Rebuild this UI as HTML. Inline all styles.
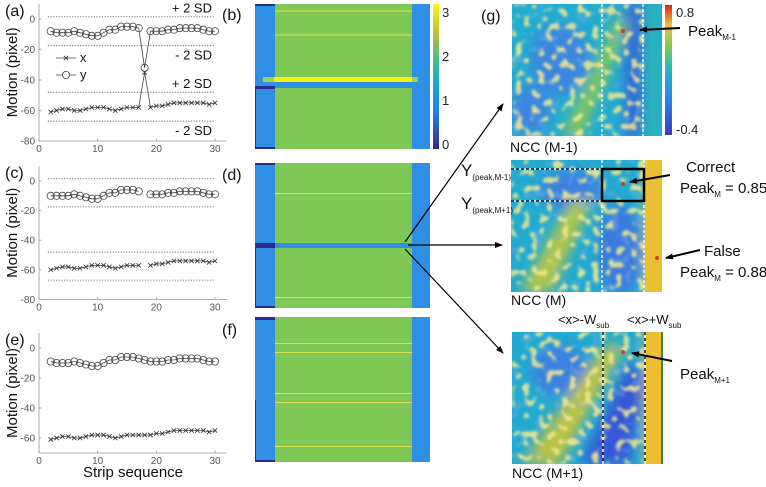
<!DOCTYPE html>
<html><head><meta charset="utf-8">
<style>
html,body{margin:0;padding:0;background:#fff;}
svg{display:block;font-family:"Liberation Sans",Arial,sans-serif;}
.tk{font-size:10px;fill:#555;}
.lab{font-size:16px;fill:#111;}
.ax{stroke:#999;stroke-width:0.8;fill:none;}
</style></head>
<body>
<svg id="fig" width="766" height="487" viewBox="0 0 766 487" xmlns="http://www.w3.org/2000/svg">
<defs>
  <filter id="noiseY" x="0" y="0" width="100%" height="100%">
    <feTurbulence type="fractalNoise" baseFrequency="0.13" numOctaves="1" seed="3" result="t"/>
    <feColorMatrix in="t" type="matrix" values="0 0 0 0 0.93  0 0 0 0 0.82  0 0 0 0 0.28  12 0 0 0 -6.7" result="c"/>
    <feComposite in="c" in2="SourceGraphic" operator="in"/>
  </filter>
  <filter id="noiseB" x="0" y="0" width="100%" height="100%">
    <feTurbulence type="fractalNoise" baseFrequency="0.09" numOctaves="1" seed="11" result="t"/>
    <feColorMatrix in="t" type="matrix" values="0 0 0 0 0.24  0 0 0 0 0.42  0 0 0 0 0.88  -8 0 0 0 3.2" result="c"/>
    <feComposite in="c" in2="SourceGraphic" operator="in"/>
  </filter>
  <filter id="blur6"><feGaussianBlur stdDeviation="6"/></filter>
  <filter id="blur1"><feGaussianBlur stdDeviation="1.3"/></filter>
  <linearGradient id="parula" x1="0" y1="1" x2="0" y2="0">
    <stop offset="0" stop-color="#352a87"/><stop offset="0.25" stop-color="#1f7fe0"/>
    <stop offset="0.45" stop-color="#13a9d6"/><stop offset="0.6" stop-color="#3fbc92"/>
    <stop offset="0.8" stop-color="#bdbe36"/><stop offset="1" stop-color="#f9fb0e"/>
  </linearGradient>
  <linearGradient id="jetbar" x1="0" y1="1" x2="0" y2="0">
    <stop offset="0" stop-color="#3a3ab8"/><stop offset="0.25" stop-color="#2a7fe6"/>
    <stop offset="0.5" stop-color="#22b8c0"/><stop offset="0.7" stop-color="#8cc850"/>
    <stop offset="0.85" stop-color="#f0c030"/><stop offset="1" stop-color="#e0201a"/>
  </linearGradient>
  <clipPath id="cg1"><rect x="512" y="4" width="150" height="132"/></clipPath>
  <clipPath id="cg2"><rect x="511" y="160" width="151" height="132"/></clipPath>
  <clipPath id="cg3"><rect x="512" y="332" width="151" height="132"/></clipPath>
  <marker id="ah" markerWidth="8" markerHeight="8" refX="7" refY="4" orient="auto" markerUnits="userSpaceOnUse">
    <path d="M0,1 L8,4 L0,7 z" fill="#000"/>
  </marker>
</defs>
<g id="lineCharts"></g>

<!-- panel b -->
<g>
  <text class="lab" x="222" y="20">(b)</text>
  <rect x="255" y="4" width="175" height="145" fill="#2e8fe5"/>
  <rect x="275" y="4" width="137" height="145" fill="#80c855"/>
  <rect x="255" y="4" width="20" height="2" fill="#2f2a8f"/>
  <rect x="255" y="86" width="20" height="3" fill="#2f2a8f"/>
  <rect x="255" y="89" width="1" height="60" fill="#2f2a8f"/>
  <rect x="255" y="147" width="20" height="2" fill="#2f2a8f"/>
  <rect x="275" y="10.5" width="137" height="1" fill="#e8e040"/>
  <rect x="275" y="34.5" width="137" height="1" fill="#d8e050"/>
  <rect x="263" y="77" width="155" height="5" fill="#9ed04a"/>
  <rect x="274" y="77" width="138" height="5" fill="#f5ef10"/>
  <rect x="275" y="82" width="137" height="6" fill="#2e8fe5"/>
  <rect x="433" y="4" width="6" height="145" fill="url(#parula)"/>
  <text class="tk" style="font-size:13px;fill:#222" x="442" y="17">3</text>
  <text class="tk" style="font-size:13px;fill:#222" x="442" y="61">2</text>
  <text class="tk" style="font-size:13px;fill:#222" x="442" y="105">1</text>
  <text class="tk" style="font-size:13px;fill:#222" x="442" y="149">0</text>
</g>
<!-- panel d -->
<g>
  <text class="lab" x="222" y="180">(d)</text>
  <rect x="255" y="163" width="175" height="145" fill="#2e8fe5"/>
  <rect x="275" y="163" width="137" height="145" fill="#80c855"/>
  <rect x="255" y="163" width="20" height="2" fill="#2f2a8f"/>
  <rect x="255" y="243" width="20" height="5" fill="#2f2a8f"/>
  <rect x="275" y="243" width="137" height="5" fill="#2e8fe5"/>
  <rect x="255" y="248" width="1" height="60" fill="#2f2a8f"/>
  <rect x="255" y="306" width="20" height="2" fill="#2f2a8f"/>
  <rect x="275" y="193" width="137" height="1" fill="#d8e050"/>
  <rect x="275" y="297" width="137" height="1" fill="#d8e050"/>
</g>
<!-- panel f -->
<g>
  <text class="lab" x="222" y="335">(f)</text>
  <rect x="255" y="317" width="175" height="145" fill="#2e8fe5"/>
  <rect x="275" y="317" width="137" height="145" fill="#80c855"/>
  <rect x="255" y="317" width="20" height="3" fill="#2f2a8f"/>
  <rect x="255" y="400" width="1" height="62" fill="#2f2a8f"/>
  <rect x="255" y="460" width="20" height="2" fill="#2f2a8f"/>
  <rect x="275" y="343" width="137" height="1" fill="#d8e050"/>
  <rect x="275" y="352" width="137" height="1" fill="#d8e050"/>
  <rect x="275" y="393" width="137" height="1" fill="#d8e050"/>
  <rect x="275" y="402" width="137" height="1" fill="#d8e050"/>
  <rect x="275" y="446" width="137" height="1" fill="#d8e050"/>
</g>

<!-- arrows from d -->
<g>
  <line x1="405" y1="242" x2="503" y2="104" stroke="#000" stroke-width="1.2" marker-end="url(#ah)"/>
  <line x1="408" y1="245" x2="502" y2="245" stroke="#000" stroke-width="1.2" marker-end="url(#ah)"/>
  <line x1="405" y1="249" x2="503" y2="353" stroke="#000" stroke-width="1.2" marker-end="url(#ah)"/>
</g>

<!-- panel g top -->
<g>
  <text class="lab" x="481" y="21">(g)</text>
  <g clip-path="url(#cg1)">
    <rect x="512" y="4" width="150" height="132" fill="#22acd0"/>
    <g filter="url(#blur6)">
      <ellipse cx="560" cy="60" rx="30" ry="35" fill="#3a86e0"/>
      <ellipse cx="530" cy="110" rx="20" ry="25" fill="#3a86e0"/>
      <rect x="625" y="4" width="18" height="132" fill="#3468d8"/>
      <rect x="645" y="4" width="17" height="132" fill="#2ab4b8"/>
      <polygon points="562,136 582,136 630,20 616,20" fill="#84c65c"/>
    </g>
    <rect x="512" y="4" width="132" height="132" fill="#fff" filter="url(#noiseB)" opacity="0.3"/>
    <g filter="url(#blur1)"><rect x="512" y="4" width="132" height="132" fill="#fff" filter="url(#noiseY)" opacity="0.85"/></g>
    <line x1="602" y1="4" x2="602" y2="136" stroke="#fff" stroke-width="1.3" stroke-dasharray="3,2"/>
    <line x1="643" y1="4" x2="643" y2="136" stroke="#fff" stroke-width="1.3" stroke-dasharray="3,2"/>
    <circle cx="623" cy="31" r="2" fill="#e03a10"/>
  </g>
  <rect x="665" y="5" width="7" height="130" fill="url(#jetbar)"/>
  <text style="font-size:13px;fill:#222" x="676" y="17">0.8</text>
  <text style="font-size:13px;fill:#222" x="676" y="134">-0.4</text>
  <text style="font-size:14px;fill:#111" x="510" y="152">NCC (M-1)</text>
  <line x1="680" y1="28" x2="640" y2="30" stroke="#000" stroke-width="2" marker-end="url(#ah)"/>
  <text style="font-size:15px;fill:#111" x="688" y="36">Peak<tspan style="font-size:8px" dy="4">M-1</tspan></text>
</g>

<!-- panel g middle -->
<g>
  <g clip-path="url(#cg2)">
    <rect x="511" y="160" width="151" height="132" fill="#22aad2"/>
    <g filter="url(#blur6)">
      <ellipse cx="570" cy="190" rx="30" ry="20" fill="#3a80e0"/>
      <ellipse cx="620" cy="250" rx="22" ry="45" fill="#3a7ae0"/>
      <polygon points="520,292 552,292 592,200 572,200" fill="#b0c648"/>
      <rect x="646" y="160" width="16" height="132" fill="#f0c030"/>
    </g>
    <rect x="645" y="160" width="17" height="132" fill="#ecbe32"/>
    <rect x="511" y="160" width="134" height="132" fill="#fff" filter="url(#noiseB)" opacity="0.3"/>
    <g filter="url(#blur1)"><rect x="511" y="160" width="134" height="132" fill="#fff" filter="url(#noiseY)" opacity="0.85"/></g>
    <line x1="602" y1="160" x2="602" y2="292" stroke="#fff" stroke-width="1.3" stroke-dasharray="3,2"/>
    <line x1="644" y1="160" x2="644" y2="292" stroke="#fff" stroke-width="1.3" stroke-dasharray="3,2"/>
    <line x1="511" y1="169" x2="602" y2="169" stroke="#fff" stroke-width="1.3"/>
    <line x1="511" y1="169" x2="602" y2="169" stroke="#000" stroke-width="1.3" stroke-dasharray="3,2"/>
    <line x1="511" y1="201" x2="602" y2="201" stroke="#fff" stroke-width="1.3"/>
    <line x1="511" y1="201" x2="602" y2="201" stroke="#000" stroke-width="1.3" stroke-dasharray="3,2"/>
    <rect x="602" y="169" width="42" height="32" fill="none" stroke="#000" stroke-width="2.5"/>
    <circle cx="623" cy="184" r="2" fill="#e03a10"/>
    <circle cx="657" cy="258" r="2" fill="#e03a10"/>
  </g>
  <text style="font-size:17px;fill:#111" x="461" y="176">Y<tspan style="font-size:8px" dy="4">(peak,M-1)</tspan></text>
  <text style="font-size:17px;fill:#111" x="461" y="209">Y<tspan style="font-size:8px" dy="4">(peak,M+1)</tspan></text>
  <text style="font-size:14px;fill:#111" x="511" y="305">NCC (M)</text>
  <text style="font-size:13px;fill:#111" x="558" y="324">&lt;x&gt;-W<tspan style="font-size:8px" dy="4">sub</tspan></text>
  <text style="font-size:13px;fill:#111" x="627" y="324">&lt;x&gt;+W<tspan style="font-size:8px" dy="4">sub</tspan></text>
  <line x1="670" y1="175" x2="630" y2="182" stroke="#000" stroke-width="2" marker-end="url(#ah)"/>
  <text style="font-size:15px;fill:#111" x="686" y="172">Correct</text>
  <text style="font-size:15px;fill:#111" x="680" y="193">Peak<tspan style="font-size:8px" dy="4">M</tspan><tspan dy="-4"> = 0.85</tspan></text>
  <line x1="700" y1="250" x2="666" y2="258" stroke="#000" stroke-width="2" marker-end="url(#ah)"/>
  <text style="font-size:15px;fill:#111" x="704" y="256">False</text>
  <text style="font-size:15px;fill:#111" x="680" y="277">Peak<tspan style="font-size:8px" dy="4">M</tspan><tspan dy="-4"> = 0.88</tspan></text>
</g>

<!-- panel g bottom -->
<g>
  <g clip-path="url(#cg3)">
    <rect x="512" y="332" width="151" height="132" fill="#22aad2"/>
    <g filter="url(#blur6)">
      <ellipse cx="560" cy="370" rx="28" ry="25" fill="#3a80e0"/>
      <polygon points="580,464 630,464 645,380 630,360" fill="#3458d8"/>
      <polygon points="522,464 560,464 625,345 605,345" fill="#bcc244"/>
      <rect x="646" y="332" width="16" height="132" fill="#f0c030"/>
    </g>
    <rect x="645" y="332" width="16" height="132" fill="#ecbe32"/>
    <rect x="661" y="332" width="2" height="132" fill="#3a8a3a"/>
    <rect x="512" y="332" width="133" height="132" fill="#fff" filter="url(#noiseB)" opacity="0.3"/>
    <g filter="url(#blur1)"><rect x="512" y="332" width="133" height="132" fill="#fff" filter="url(#noiseY)" opacity="0.85"/></g>
    <line x1="603" y1="332" x2="603" y2="464" stroke="#fff" stroke-width="1.3"/>
    <line x1="603" y1="332" x2="603" y2="464" stroke="#000" stroke-width="1.3" stroke-dasharray="3,3"/>
    <line x1="645" y1="332" x2="645" y2="464" stroke="#fff" stroke-width="1.3"/>
    <line x1="645" y1="332" x2="645" y2="464" stroke="#000" stroke-width="1.3" stroke-dasharray="3,3"/>
    <circle cx="623" cy="352" r="2" fill="#e03a10"/>
  </g>
  <text style="font-size:14px;fill:#111" x="512" y="478">NCC (M+1)</text>
  <line x1="672" y1="361" x2="632" y2="353" stroke="#000" stroke-width="2" marker-end="url(#ah)"/>
  <text style="font-size:15px;fill:#111" x="680" y="379">Peak<tspan style="font-size:8px" dy="4">M+1</tspan></text>
</g>
</svg>

<script>
// strip sequence indices
const xs = [2,3,4,5,6,7,8,9,10,11,12,13,14,15,16,17,18,19,20,21,22,23,24,25,26,27,28,29,30];
// panel (a)
const ya = [-8,-9,-9,-9,-8,-9,-10,-11,-11,-9,-7,-7,-5,-5,-5,-6,-32,-8,-8,-8,-7,-7,-6,-6,-6,-6,-7,-8,-8];
const xa = [-61,-60,-59,-59,-60,-60,-59,-58,-58,-58,-59,-60,-59,-58,-58,-58,-35,-58,-57,-57,-56,-55,-55,-55,-55,-55,-55,-56,-55];
// panel (c) (strip 18 removed -> null)
const yc = [-10,-10,-10,-10,-9,-10,-11,-12,-12,-10,-8,-8,-6,-6,-6,-7,null,-9,-9,-9,-8,-8,-7,-7,-7,-7,-8,-9,-9];
const xc = [-60,-59,-58,-58,-59,-59,-58,-57,-57,-57,-58,-59,-58,-57,-57,-57,null,-57,-56,-56,-55,-54,-54,-54,-54,-54,-54,-55,-54];
// panel (e)
const ye = [-9,-10,-10,-10,-9,-10,-11,-12,-12,-10,-8,-8,-6,-6,-6,-7,-8,-9,-9,-9,-8,-8,-7,-7,-7,-7,-8,-9,-9];
const xe = [-61,-60,-59,-59,-60,-60,-59,-58,-58,-58,-59,-60,-59,-58,-58,-58,-58,-58,-57,-57,-56,-55,-55,-55,-55,-55,-55,-56,-55];
// +/-2 SD thresholds
const sdVals = [1.5, -17.5, -48, -67];
const sdLabels = ["+ 2 SD","- 2 SD","+ 2 SD","- 2 SD"];
const xTicks = [0,10,20,30];

const NS = "http://www.w3.org/2000/svg";
const root = document.getElementById("lineCharts");
function mk(tag, attrs, parent){
  const e = document.createElementNS(NS, tag);
  for (const k in attrs) e.setAttribute(k, attrs[k]);
  (parent||root).appendChild(e);
  return e;
}
function px(v){ return 39 + v * (176/30); }

function drawPanel(cfg){
  const g = mk("g", {});
  
  
  const py = v => cfg.y0 - v * cfg.s;
  const bottom = py(cfg.ymin), top = py(10);
  mk("line",{x1:39,y1:top,x2:39,y2:bottom,class:"ax"},g);
  mk("line",{x1:39,y1:bottom,x2:227,y2:bottom,class:"ax"},g);
  cfg.yTicks.forEach(t=>{
    mk("line",{x1:39,y1:py(t),x2:41.5,y2:py(t),class:"ax"},g);
    const tx = mk("text",{x:35,y:py(t)+3.5,class:"tk","text-anchor":"end"},g);
    tx.textContent = t;
  });
  xTicks.forEach(t=>{
    mk("line",{x1:px(t),y1:bottom,x2:px(t),y2:bottom-2.5,class:"ax"},g);
    const tx = mk("text",{x:px(t),y:bottom+11,class:"tk","text-anchor":"middle"},g);
    tx.textContent = t;
  });
  const lab = mk("text",{x:5,y:top+12,class:"lab"},g);
  lab.textContent = cfg.label;
  const yl = mk("text",{x:0,y:0,style:"font-size:15px;fill:#111","text-anchor":"middle",transform:`translate(17,${(top+bottom)/2}) rotate(-90)`},g);
  
  
  yl.textContent = "Motion (pixel)";
  if (cfg.sd){
    sdVals.forEach((v,i)=>{
      mk("line",{x1:px(1.5),y1:py(v),x2:px(30),y2:py(v),stroke:"#555","stroke-width":0.8,"stroke-dasharray":"1.2,1.5"},g);
      if (cfg.sdText){
        const t = mk("text",{x:212,y: i%2===0 ? py(v)-4 : py(v)+14,style:"font-size:13px;fill:#111","text-anchor":"end"},g);
        t.textContent = sdLabels[i];
      }
    });
  }
  [[cfg.y,"o"],[cfg.x,"x"]].forEach(([arr,m])=>{
    let d="", pen=false;
    arr.forEach((v,i)=>{
      if (v===null){pen=false;return;}
      d += (pen?"L":"M")+px(xs[i]).toFixed(1)+","+py(v).toFixed(1)+" ";
      pen=true;
    });
    const ln = mk("path",{d:d,fill:"none",stroke:"#444","stroke-width":0.8},g);
    
    
    arr.forEach((v,i)=>{
      if (v===null) return;
      const cx = px(xs[i]), cy = py(v);
      if (m==="o"){
        const c = mk("circle",{cx:cx,cy:cy,r:3.6,fill:"none",stroke:"#444","stroke-width":0.8},g);
        
        
      } else {
        const p = mk("path",{d:`M${cx-2.2},${cy-2.2}L${cx+2.2},${cy+2.2}M${cx-2.2},${cy+2.2}L${cx+2.2},${cy-2.2}`,stroke:"#333","stroke-width":0.8},g);
        
        
      }
    });
  });
  if (cfg.legend){
    mk("line",{x1:56,y1:58,x2:76,y2:58,stroke:"#444","stroke-width":0.8},g);
    mk("path",{d:"M63.8,55.8L68.2,60.2M63.8,60.2L68.2,55.8",stroke:"#333","stroke-width":0.8},g);
    const t1 = mk("text",{x:80,y:62,style:"font-size:13px;fill:#111"},g); t1.textContent="x";
    mk("line",{x1:56,y1:75,x2:76,y2:75,stroke:"#444","stroke-width":0.8},g);
    mk("circle",{cx:66,cy:75,r:3.6,fill:"#fff",stroke:"#444","stroke-width":0.8},g);
    const t2 = mk("text",{x:80,y:79,style:"font-size:13px;fill:#111"},g); t2.textContent="y";
  }
}
drawPanel({name:"panel-a-motion-chart",label:"(a)",y0:19,s:1.525,ymin:-80,yTicks:[0,-20,-40,-60,-80],y:ya,x:xa,sd:true,sdText:true,legend:true});
drawPanel({name:"panel-c-motion-chart",label:"(c)",y0:181,s:1.48,ymin:-80,yTicks:[0,-20,-40,-60,-80],y:yc,x:xc,sd:true,sdText:false,legend:false});
drawPanel({name:"panel-e-motion-chart",label:"(e)",y0:348,s:1.5,ymin:-70,yTicks:[0,-20,-40,-60],y:ye,x:xe,sd:false,legend:false});
const xl = mk("text",{x:133,y:477,style:"font-size:15px;fill:#111","text-anchor":"middle"});


xl.textContent = "Strip sequence";
</script>
</body></html>
